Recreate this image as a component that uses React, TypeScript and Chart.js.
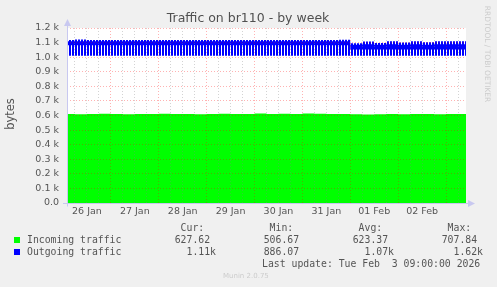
import { useEffect, useRef } from 'react';
import { Chart, registerables } from 'chart.js';

Chart.register(...registerables);

// ---------- data ----------
const TITLE = 'Traffic on br110 - by week';
const Y_AXIS_LABEL = 'bytes';
const WATERMARK = 'RRDTOOL / TOBI OETIKER';
const DAY_LABELS = ['26 Jan', '27 Jan', '28 Jan', '29 Jan', '30 Jan', '31 Jan', '01 Feb', '02 Feb'];

// hours since 26 Jan 00:00
const SAMPLE_HOURS = [
  2, 6, 12, 18, 24, 30, 36, 42, 48, 54, 60, 66, 72, 78, 84, 90, 96, 102,
  108, 114, 120, 126, 132, 138, 144, 150, 156, 162, 168, 174, 180, 186, 192, 198, 202,
];

const INCOMING = [
  610, 611, 609, 610, 612, 610, 609, 611, 610, 612, 611, 610, 609, 611, 612, 610, 611, 613,
  610, 612, 611, 613, 612, 610, 611, 609, 607, 608, 610, 609, 611, 610, 609, 610, 611,
];

// outgoing traffic oscillates quickly: upper / lower envelope and its dense core
const OUTGOING_MAX = [
  1118, 1118, 1121, 1118, 1118, 1118, 1118, 1118, 1118, 1118, 1118, 1118, 1118, 1118, 1118, 1118, 1118, 1118,
  1118, 1118, 1118, 1118, 1118, 1118, 1120, 1096, 1108, 1097, 1110, 1100, 1110, 1103, 1110, 1110, 1110,
];
const OUTGOING_CORE_TOP = [
  1110, 1110, 1110, 1110, 1110, 1110, 1110, 1110, 1110, 1110, 1110, 1110, 1110, 1110, 1110, 1110, 1110, 1110,
  1110, 1110, 1110, 1110, 1110, 1110, 1110, 1086, 1088, 1086, 1088, 1086, 1088, 1086, 1088, 1088, 1088,
];
const OUTGOING_CORE_BOTTOM = [
  1082, 1082, 1082, 1082, 1082, 1082, 1082, 1082, 1082, 1082, 1082, 1082, 1082, 1082, 1082, 1082, 1082, 1082,
  1082, 1082, 1082, 1082, 1082, 1082, 1082, 1052, 1052, 1052, 1052, 1052, 1052, 1052, 1052, 1052, 1052,
];
const OUTGOING_MIN = [
  1010, 1010, 1010, 1010, 1010, 1010, 1010, 1010, 1010, 1010, 1010, 1010, 1010, 1010, 1010, 1010, 1010, 1010,
  1010, 1010, 1010, 1010, 1010, 1010, 1010, 1010, 1010, 1010, 1010, 1010, 1010, 1010, 1010, 1010, 1010,
];

const SERIES_NAMES = ['Incoming traffic', 'Outgoing traffic'];
const STAT_HEADERS = ['Cur:', 'Min:', 'Avg:', 'Max:'];
const INCOMING_STATS = ['627.62', '506.67', '623.37', '707.84'];
const OUTGOING_STATS = ['1.11k', '886.07', '1.07k', '1.62k'];
const LAST_UPDATE = 'Last update: Tue Feb  3 09:00:00 2026';
const VERSION = 'Munin 2.0.75';

// ---------- styling ----------
const GREEN = '#00ff00';
const BLUE = '#0000ff';
const TEXT = '#555555';
const AXIS = '#c8c8f0';
const MAJOR_GRID = 'rgba(255,0,0,0.3)';
const MINOR_GRID = 'rgba(128,128,128,0.35)';
const SANS = 'DejaVu Sans';
const MONO = 'DejaVu Sans Mono';

const decor = {
  id: 'muninDecor',
  beforeDraw(chart: any) {
    const { ctx, chartArea: a } = chart;
    ctx.save();
    ctx.fillStyle = '#f0f0f0';
    ctx.fillRect(0, 0, chart.width, chart.height);
    ctx.fillStyle = '#ffffff';
    ctx.fillRect(a.left, a.top, a.right - a.left, a.bottom - a.top);
    ctx.restore();
  },
  afterDraw(chart: any) {
    const { ctx, chartArea: a } = chart;
    ctx.save();
    // axes with arrows
    ctx.strokeStyle = AXIS;
    ctx.fillStyle = AXIS;
    ctx.lineWidth = 1;
    const ax = Math.round(a.left) + 0.5;
    const ay = Math.round(a.bottom) + 0.5;
    ctx.beginPath();
    ctx.moveTo(ax, ay + 3);
    ctx.lineTo(ax, a.top - 4);
    ctx.moveTo(a.left - 4, ay);
    ctx.lineTo(a.right + 4, ay);
    ctx.stroke();
    ctx.beginPath();
    ctx.moveTo(ax, a.top - 9);
    ctx.lineTo(ax - 3.5, a.top - 2);
    ctx.lineTo(ax + 3.5, a.top - 2);
    ctx.closePath();
    ctx.fill();
    ctx.beginPath();
    ctx.moveTo(a.right + 9, ay);
    ctx.lineTo(a.right + 2, ay - 3.5);
    ctx.lineTo(a.right + 2, ay + 3.5);
    ctx.closePath();
    ctx.fill();

    // title
    ctx.fillStyle = '#505050';
    ctx.font = `12.5px "${SANS}"`;
    ctx.textAlign = 'center';
    ctx.textBaseline = 'middle';
    ctx.fillText(TITLE, 248, 19);

    // y axis title
    ctx.save();
    ctx.translate(11, 114);
    ctx.rotate(-Math.PI / 2);
    ctx.fillStyle = TEXT;
    ctx.font = `11.5px "${SANS}"`;
    ctx.fillText(Y_AXIS_LABEL, 0, 0);
    ctx.restore();

    // watermark
    ctx.save();
    ctx.translate(487, 54);
    ctx.rotate(Math.PI / 2);
    ctx.fillStyle = '#cccccc';
    ctx.font = `7.5px "${SANS}"`;
    ctx.fillText(WATERMARK, 0, 0);
    ctx.restore();

    // legend
    const colRight = [216, 305, 394, 483];
    ctx.font = `9.8px "${MONO}"`;
    ctx.fillStyle = TEXT;
    ctx.textAlign = 'right';
    STAT_HEADERS.forEach((h, i) => ctx.fillText(h + '  ', colRight[i], 228));
    const rows = [
      { name: SERIES_NAMES[0], color: GREEN, stats: INCOMING_STATS, y: 240 },
      { name: SERIES_NAMES[1], color: BLUE, stats: OUTGOING_STATS, y: 252 },
    ];
    rows.forEach((r) => {
      ctx.fillStyle = r.color;
      ctx.fillRect(14, r.y - 3, 6, 6);
      ctx.fillStyle = TEXT;
      ctx.textAlign = 'left';
      ctx.fillText(r.name, 27, r.y);
      ctx.textAlign = 'right';
      r.stats.forEach((s, i) => ctx.fillText(/k$/.test(s) ? s : s + ' ', colRight[i], r.y));
    });
    ctx.textAlign = 'left';
    ctx.fillText(LAST_UPDATE, 262, 264);

    ctx.fillStyle = '#cccccc';
    ctx.font = `7px "${SANS}"`;
    ctx.fillText(VERSION, 223, 276);
    ctx.restore();
  },
};

export default function App() {
  const ref = useRef<HTMLCanvasElement>(null);

  useEffect(() => {
    const canvas = ref.current!;
    const stripe = document.createElement('canvas');
    stripe.width = 3;
    stripe.height = 1;
    const sctx = stripe.getContext('2d')!;
    sctx.fillStyle = BLUE;
    sctx.fillRect(0, 0, 2, 1);
    const pattern = canvas.getContext('2d')!.createPattern(stripe, 'repeat')!;

    const pts = (vals: number[]) => SAMPLE_HOURS.map((h, i) => ({ x: h, y: vals[i] }));
    const base = { pointRadius: 0, borderWidth: 0, stepped: 'after' as const, tension: 0 };

    const tickHours: number[] = [];
    for (let h = 6; h <= 198; h += 6) tickHours.push(h);

    const chart = new Chart(canvas, {
      type: 'line',
      data: {
        datasets: [
          { ...base, label: SERIES_NAMES[1], data: pts(OUTGOING_MAX), fill: 3, backgroundColor: pattern, borderColor: BLUE },
          { ...base, label: 'core', data: pts(OUTGOING_CORE_TOP), fill: 2, backgroundColor: BLUE, borderColor: BLUE },
          { ...base, label: 'core-bottom', data: pts(OUTGOING_CORE_BOTTOM), fill: false, borderColor: BLUE },
          { ...base, label: 'min', data: pts(OUTGOING_MIN), fill: false, borderColor: BLUE },
          { ...base, label: SERIES_NAMES[0], data: pts(INCOMING), fill: 'origin', backgroundColor: GREEN, borderColor: GREEN },
        ] as any,
      },
      options: {
        animation: false,
        responsive: false,
        devicePixelRatio: 1,
        layout: { padding: { left: 0, top: 28, right: 31, bottom: 0 } },
        plugins: { legend: { display: false }, tooltip: { enabled: false }, title: { display: false } },
        scales: {
          x: {
            type: 'linear',
            min: 2,
            max: 202,
            afterBuildTicks: (s: any) => {
              s.ticks = tickHours.map((v) => ({ value: v }));
            },
            afterFit: (s: any) => {
              s.height = 84;
            },
            ticks: {
              autoSkip: false,
              maxRotation: 0,
              padding: 3,
              color: TEXT,
              font: { family: SANS, size: 9.5 },
              callback: (v: any) => (v % 24 === 12 ? DAY_LABELS[(v - 12) / 24] : ''),
            },
            grid: {
              z: 1,
              drawTicks: false,
              color: (c: any) => (c.tick && c.tick.value % 24 === 0 ? MAJOR_GRID : MINOR_GRID),
            },
            border: { display: false, dash: [1, 2] },
          },
          y: {
            type: 'linear',
            min: 0,
            max: 1200,
            afterFit: (s: any) => {
              s.width = 67;
            },
            ticks: {
              stepSize: 100,
              padding: 8,
              color: TEXT,
              font: { family: SANS, size: 9.5 },
              callback: (v: any) => (v === 0 ? '0.0' : (v / 1000).toFixed(1) + ' k'),
            },
            grid: { z: 1, drawTicks: false, color: MAJOR_GRID },
            border: { display: false, dash: [1, 2] },
          },
        },
      } as any,
      plugins: [decor],
    });
    return () => chart.destroy();
  }, []);

  return (
    <div style={{ position: 'fixed', left: 0, top: 0, width: 497, height: 287 }}>
      <canvas ref={ref} width={497} height={287} style={{ display: 'block' }} />
    </div>
  );
}
